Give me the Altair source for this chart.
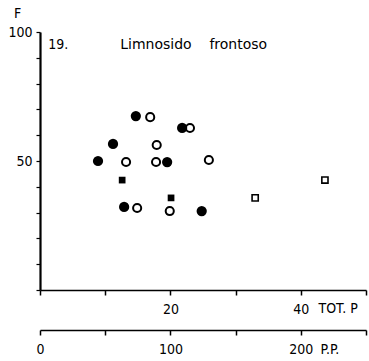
import altair as alt
import pandas as pd

FONT = "DejaVu Sans Condensed"
TFONT = "DejaVu Sans"

# data (TOT. P on x, F on y)
filled_circle_x = [14.7, 11.2, 8.9, 19.5, 21.8, 12.9, 24.8]
filled_circle_y = [67.4, 56.6, 50.0, 49.6, 62.8, 32.2, 30.6]
open_circle_x = [16.9, 23.0, 17.9, 13.2, 17.8, 25.9, 14.9, 19.9]
open_circle_y = [67.0, 62.8, 56.2, 49.6, 49.6, 50.4, 31.8, 30.6]
filled_square_x = [12.6, 20.1]
filled_square_y = [42.6, 35.7]
open_square_x = [33.0, 43.7]
open_square_y = [35.7, 42.6]

x_ticks = [0, 10, 20, 30, 40, 50]
y_ticks = [0, 10, 20, 30, 40, 50, 60, 70, 80, 90, 100]
pp_ticks = [0, 50, 100, 150, 200, 250]

num_text = ["19."]
num_x = [2.8]
num_y = [95.0]
name_text = ["Limnosido\u00a0\u00a0\u00a0\u00a0frontoso"]
name_x = [12.3]
name_y = [95.0]

xs = alt.Scale(domain=[0, 50], nice=False, zero=False)
ys = alt.Scale(domain=[0, 100], nice=False, zero=False)

x_axis = alt.Axis(
    values=x_ticks, labelExpr="(datum.value == 20 || datum.value == 40) ? datum.label : ''",
    title="TOT. P", titleX=278, titleY=11, titleAlign="left", titleBaseline="top",
    titleFont=FONT, titleFontSize=14, titleFontWeight="normal", titleColor="black",
    labelFont=FONT, labelFontSize=14, labelColor="black", labelPadding=7,
    tickSize=5, tickColor="black", tickWidth=1.5, domainColor="black", domainWidth=1.5,
    grid=False, orient="bottom", labelFlush=False,
)
y_axis = alt.Axis(
    values=y_ticks, labelExpr="(datum.value == 50 || datum.value == 100) ? datum.label : ''",
    title="F", titleAngle=0, titleX=-23, titleY=-19, titleAlign="center", titleBaseline="middle",
    titleFont=FONT, titleFontSize=14, titleFontWeight="normal", titleColor="black",
    labelFont=FONT, labelFontSize=14, labelColor="black", labelPadding=4,
    tickSize=4, tickColor="black", tickWidth=1.2, domainColor="black", domainWidth=2.2,
    grid=False, labelFlush=False,
)


def df(xv, yv):
    return pd.DataFrame({"x": xv, "y": yv})


def pts(d, **kw):
    return alt.Chart(d).mark_point(**kw).encode(
        x=alt.X("x:Q", scale=xs, axis=x_axis),
        y=alt.Y("y:Q", scale=ys, axis=y_axis),
    )


fc = pts(df(filled_circle_x, filled_circle_y), shape="circle", filled=True, color="black", size=105, opacity=1)
oc = pts(df(open_circle_x, open_circle_y), shape="circle", filled=False, color="black", size=66, strokeWidth=2, opacity=1)
fs = pts(df(filled_square_x, filled_square_y), shape="square", filled=True, color="black", size=45, opacity=1)
os_ = pts(df(open_square_x, open_square_y), shape="square", filled=False, color="black", size=38, strokeWidth=1.6, opacity=1)


def txt(t, xv, yv, font, align):
    return alt.Chart(pd.DataFrame({"t": t, "x": xv, "y": yv})).mark_text(
        font=font, fontSize=14, color="black", align=align, baseline="middle"
    ).encode(
        x=alt.X("x:Q", scale=xs, axis=x_axis),
        y=alt.Y("y:Q", scale=ys, axis=y_axis),
        text="t:N",
    )


t1 = txt(num_text, num_x, num_y, FONT, "center")
t2 = txt(name_text, name_x, name_y, TFONT, "left")

main = alt.layer(fc, oc, fs, os_, t1, t2)

pp_axis = alt.Axis(
    values=pp_ticks, labelExpr="(datum.value == 0 || datum.value == 100 || datum.value == 200) ? datum.label : ''",
    title="P.P.", titleX=280, titleY=12, titleAlign="left", titleBaseline="top",
    titleFont=FONT, titleFontSize=14, titleFontWeight="normal", titleColor="black",
    labelFont=FONT, labelFontSize=14, labelColor="black", labelPadding=7,
    tickSize=5, tickColor="black", tickWidth=1.5, domainColor="black", domainWidth=1.5,
    grid=False, orient="bottom", offset=40, labelFlush=False,
)
pp = alt.Chart(pd.DataFrame({"pp": [pp_ticks[0], pp_ticks[-1]], "y": [0, 0]})).mark_point(opacity=0).encode(
    x=alt.X("pp:Q", scale=alt.Scale(domain=[0, 250], nice=False, zero=False), axis=pp_axis),
    y=alt.Y("y:Q", scale=ys, axis=y_axis),
)

chart = alt.layer(main, pp).resolve_scale(x="independent").resolve_axis(x="independent").properties(
    width=326, height=258,
    autosize=alt.AutoSizeParams(type="none"),
    padding={"left": 40, "top": 32, "right": 3, "bottom": 71},
    background="white",
).configure_view(stroke=None)

chart.save("out.html", embed_options={"renderer": "svg", "actions": False})
